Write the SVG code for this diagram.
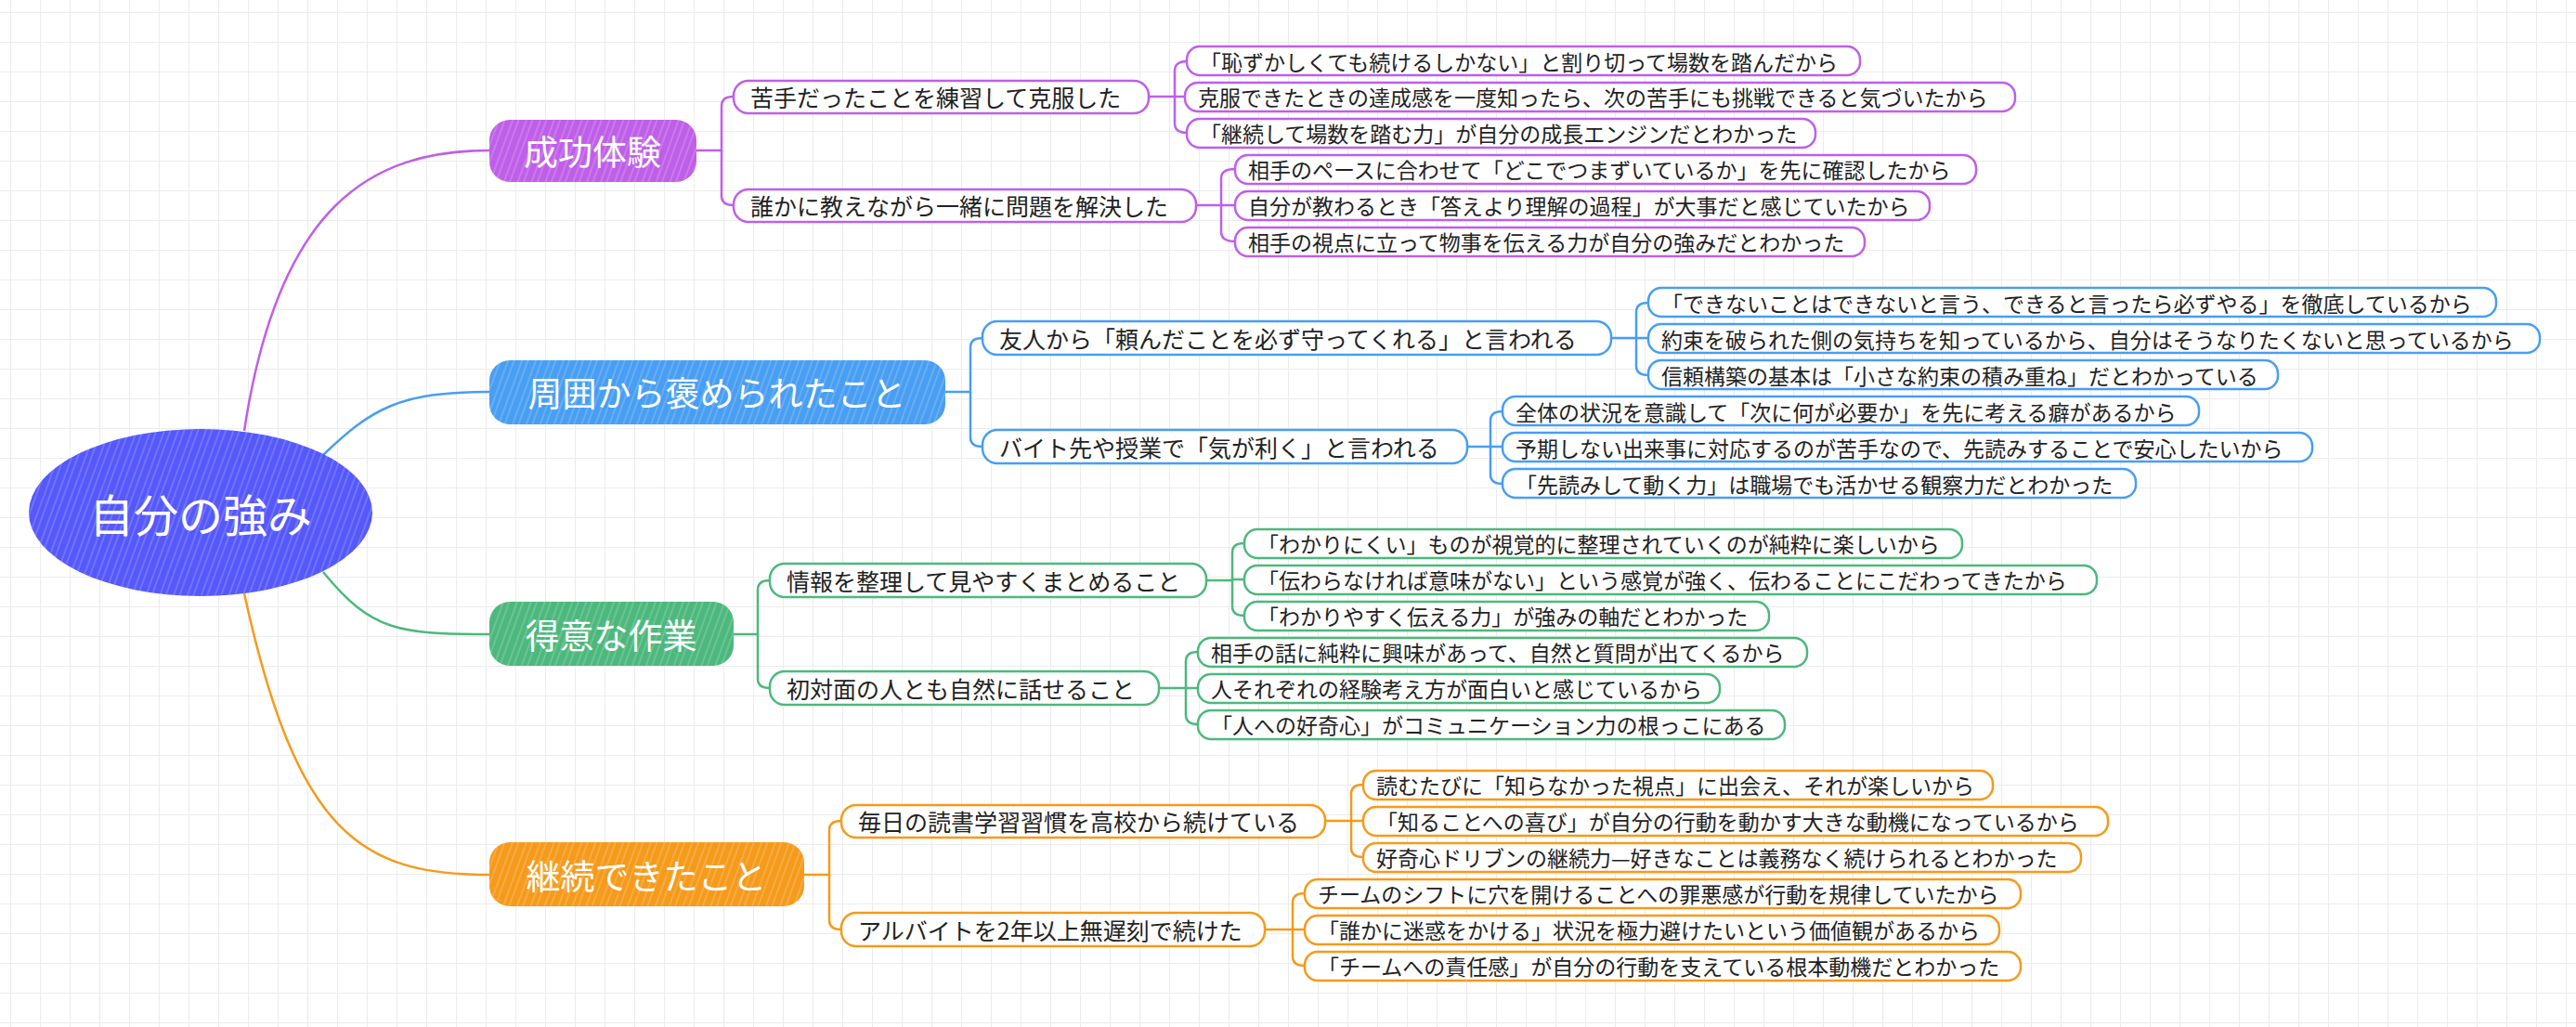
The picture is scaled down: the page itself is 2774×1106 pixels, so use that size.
<svg xmlns="http://www.w3.org/2000/svg" width="2774" height="1106" viewBox="0 0 2774 1106">
<style>
text{font-family:"Noto Sans CJK JP","Noto Sans",sans-serif;dominant-baseline:central}
.lf text{font-size:23px;fill:#222}
.l2 text{font-size:25px;fill:#222}
.mn text{font-size:37px;fill:#fff}
.box{fill:#fff;stroke-width:2.5}
.P{stroke:#BF5FE8}.B{stroke:#489EF2}.G{stroke:#4DB87D}.O{stroke:#F59A1B}
#conn path{fill:none;stroke-width:2.5}
</style>
<defs>
<pattern id="grid" width="32" height="32" patternUnits="userSpaceOnUse" x="12" y="14"><path d="M32 0V32M0 32H32" fill="none" stroke="#ececec" stroke-width="2"/></pattern>
<pattern id="hatch" width="14" height="14" patternUnits="userSpaceOnUse" patternTransform="rotate(20)"><path d="M3 0V14M9 0V14" stroke="#fff" stroke-opacity="0.22" stroke-width="1.5"/></pattern>
</defs>
<rect width="2774" height="1106" fill="#fff"/>
<rect width="2774" height="1106" fill="url(#grid)"/>
<g id="conn">
<path d="M263 464C300 220 400 162 527 162" stroke="#BF5FE8" stroke-width="4"/>
<path d="M348 490C400 440 430 422 527 422" stroke="#489EF2" stroke-width="5"/>
<path d="M348 616C400 680 430 683 527 683" stroke="#4DB87D" stroke-width="5"/>
<path d="M263 639C320 900 390 942 527 942" stroke="#F59A1B" stroke-width="4"/>
<g stroke="#BF5FE8">
<path d="M750 162H777V114Q777 104 790 104"/><path d="M777 162V211Q777 221 790 221"/>
<path d="M1237 104H1265V76Q1265 66 1278 66"/><path d="M1265 104H1278"/><path d="M1265 104V133Q1265 143 1278 143"/>
<path d="M1288 221H1315V192Q1315 182 1330 182"/><path d="M1315 221H1330"/><path d="M1315 221V250Q1315 260 1330 260"/>
</g>
<g stroke="#489EF2">
<path d="M1018 422H1045V374Q1045 364 1058 364"/><path d="M1045 422V471Q1045 481 1058 481"/>
<path d="M1735 364H1762V336Q1762 326 1775 326"/><path d="M1762 364H1775"/><path d="M1762 364V394Q1762 404 1775 404"/>
<path d="M1580 481H1605V453Q1605 443 1618 443"/><path d="M1605 481H1618"/><path d="M1605 481V511Q1605 521 1618 521"/>
</g>
<g stroke="#4DB87D">
<path d="M790 683H816V635Q816 625 829 625"/><path d="M816 683V731Q816 741 829 741"/>
<path d="M1299 625H1327V595Q1327 585 1340 585"/><path d="M1327 624H1340"/><path d="M1327 624V653Q1327 663 1340 663"/>
<path d="M1248 741H1277V712Q1277 702 1290 702"/><path d="M1277 741H1290"/><path d="M1277 741V770Q1277 780 1290 780"/>
</g>
<g stroke="#F59A1B">
<path d="M866 942H893V894Q893 884 906 884"/><path d="M893 942V991Q893 1001 906 1001"/>
<path d="M1427 884H1455V855Q1455 845 1468 845"/><path d="M1455 884H1468"/><path d="M1455 884V913Q1455 923 1468 923"/>
<path d="M1362 1001H1392V972Q1392 962 1405 962"/><path d="M1392 1001H1405"/><path d="M1392 1001V1030Q1392 1040 1405 1040"/>
</g>
</g>
<g id="root"><ellipse cx="216" cy="552" rx="185" ry="90" fill="#5558FB"/><ellipse cx="216" cy="552" rx="185" ry="90" fill="url(#hatch)"/><text x="216" y="552" text-anchor="middle" font-size="48" fill="#fff">自分の強み</text></g>
<g class="mn">
<g id="m1"><rect x="527" y="129" width="223" height="67" rx="22" fill="#BF5FE8"/><rect x="527" y="129" width="223" height="67" rx="22" fill="url(#hatch)"/><text x="638" y="162" text-anchor="middle">成功体験</text></g>
<g id="m2"><rect x="527" y="388" width="491" height="69" rx="22" fill="#489EF2"/><rect x="527" y="388" width="491" height="69" rx="22" fill="url(#hatch)"/><text x="772" y="422" text-anchor="middle">周囲から褒められたこと</text></g>
<g id="m3"><rect x="527" y="648" width="263" height="69" rx="22" fill="#4DB87D"/><rect x="527" y="648" width="263" height="69" rx="22" fill="url(#hatch)"/><text x="658" y="683" text-anchor="middle">得意な作業</text></g>
<g id="m4"><rect x="527" y="907" width="339" height="69" rx="22" fill="#F59A1B"/><rect x="527" y="907" width="339" height="69" rx="22" fill="url(#hatch)"/><text x="696" y="942" text-anchor="middle">継続できたこと</text></g>
</g>
<g class="l2">
<g id="p1"><rect class="box P" x="790" y="87" width="447" height="35" rx="16"/><text x="808" y="104">苦手だったことを練習して克服した</text></g>
<g id="p2"><rect class="box P" x="790" y="204" width="498" height="35" rx="16"/><text x="808" y="221">誰かに教えながら一緒に問題を解決した</text></g>
<g id="b1"><rect class="box B" x="1058" y="346" width="677" height="36" rx="16"/><text x="1076" y="364">友人から「頼んだことを必ず守ってくれる」と言われる</text></g>
<g id="b2"><rect class="box B" x="1058" y="463" width="522" height="36" rx="16"/><text x="1076" y="481">バイト先や授業で「気が利く」と言われる</text></g>
<g id="g1"><rect class="box G" x="829" y="607" width="470" height="36" rx="16"/><text x="847" y="625">情報を整理して見やすくまとめること</text></g>
<g id="g2"><rect class="box G" x="829" y="723" width="419" height="36" rx="16"/><text x="847" y="741">初対面の人とも自然に話せること</text></g>
<g id="o1"><rect class="box O" x="906" y="867" width="521" height="35" rx="16"/><text x="924" y="884">毎日の読書学習習慣を高校から続けている</text></g>
<g id="o2"><rect class="box O" x="906" y="983" width="456" height="36" rx="16"/><text x="924" y="1001">アルバイトを2年以上無遅刻で続けた</text></g>
</g>
<g class="lf">
<g id="p1a"><rect class="box P" x="1278" y="50" width="725" height="31" rx="14"/><text x="1292" y="66">「恥ずかしくても続けるしかない」と割り切って場数を踏んだから</text></g>
<g id="p1b"><rect class="box P" x="1276" y="89" width="894" height="31" rx="14"/><text x="1290" y="104">克服できたときの達成感を一度知ったら、次の苦手にも挑戦できると気づいたから</text></g>
<g id="p1c"><rect class="box P" x="1278" y="128" width="677" height="31" rx="14"/><text x="1292" y="143">「継続して場数を踏む力」が自分の成長エンジンだとわかった</text></g>
<g id="p2a"><rect class="box P" x="1330" y="167" width="798" height="31" rx="14"/><text x="1344" y="182">相手のペースに合わせて「どこでつまずいているか」を先に確認したから</text></g>
<g id="p2b"><rect class="box P" x="1330" y="206" width="748" height="31" rx="14"/><text x="1344" y="221">自分が教わるとき「答えより理解の過程」が大事だと感じていたから</text></g>
<g id="p2c"><rect class="box P" x="1330" y="245" width="678" height="31" rx="14"/><text x="1344" y="260">相手の視点に立って物事を伝える力が自分の強みだとわかった</text></g>
<g id="b1a"><rect class="box B" x="1775" y="310" width="913" height="31" rx="14"/><text x="1789" y="326">「できないことはできないと言う、できると言ったら必ずやる」を徹底しているから</text></g>
<g id="b1b"><rect class="box B" x="1775" y="349" width="960" height="31" rx="14"/><text x="1789" y="365">約束を破られた側の気持ちを知っているから、自分はそうなりたくないと思っているから</text></g>
<g id="b1c"><rect class="box B" x="1775" y="388" width="678" height="31" rx="14"/><text x="1789" y="404">信頼構築の基本は「小さな約束の積み重ね」だとわかっている</text></g>
<g id="b2a"><rect class="box B" x="1618" y="427" width="750" height="31" rx="14"/><text x="1632" y="443">全体の状況を意識して「次に何が必要か」を先に考える癖があるから</text></g>
<g id="b2b"><rect class="box B" x="1618" y="466" width="872" height="31" rx="14"/><text x="1632" y="482">予期しない出来事に対応するのが苦手なので、先読みすることで安心したいから</text></g>
<g id="b2c"><rect class="box B" x="1618" y="505" width="682" height="31" rx="14"/><text x="1632" y="521">「先読みして動く力」は職場でも活かせる観察力だとわかった</text></g>
<g id="g1a"><rect class="box G" x="1340" y="570" width="773" height="31" rx="14"/><text x="1354" y="585">「わかりにくい」ものが視覚的に整理されていくのが純粋に楽しいから</text></g>
<g id="g1b"><rect class="box G" x="1340" y="609" width="918" height="31" rx="14"/><text x="1354" y="624">「伝わらなければ意味がない」という感覚が強く、伝わることにこだわってきたから</text></g>
<g id="g1c"><rect class="box G" x="1340" y="648" width="565" height="31" rx="14"/><text x="1354" y="663">「わかりやすく伝える力」が強みの軸だとわかった</text></g>
<g id="g2a"><rect class="box G" x="1290" y="687" width="656" height="31" rx="14"/><text x="1304" y="702">相手の話に純粋に興味があって、自然と質問が出てくるから</text></g>
<g id="g2b"><rect class="box G" x="1290" y="726" width="562" height="31" rx="14"/><text x="1304" y="741">人それぞれの経験考え方が面白いと感じているから</text></g>
<g id="g2c"><rect class="box G" x="1290" y="765" width="632" height="31" rx="14"/><text x="1304" y="780">「人への好奇心」がコミュニケーション力の根っこにある</text></g>
<g id="o1a"><rect class="box O" x="1468" y="830" width="678" height="31" rx="14"/><text x="1482" y="845">読むたびに「知らなかった視点」に出会え、それが楽しいから</text></g>
<g id="o1b"><rect class="box O" x="1468" y="869" width="802" height="31" rx="14"/><text x="1482" y="884">「知ることへの喜び」が自分の行動を動かす大きな動機になっているから</text></g>
<g id="o1c"><rect class="box O" x="1468" y="908" width="773" height="31" rx="14"/><text x="1482" y="923">好奇心ドリブンの継続力—好きなことは義務なく続けられるとわかった</text></g>
<g id="o2a"><rect class="box O" x="1405" y="947" width="771" height="31" rx="14"/><text x="1419" y="962">チームのシフトに穴を開けることへの罪悪感が行動を規律していたから</text></g>
<g id="o2b"><rect class="box O" x="1405" y="986" width="748" height="31" rx="14"/><text x="1419" y="1001">「誰かに迷惑をかける」状況を極力避けたいという価値観があるから</text></g>
<g id="o2c"><rect class="box O" x="1405" y="1025" width="771" height="31" rx="14"/><text x="1419" y="1040">「チームへの責任感」が自分の行動を支えている根本動機だとわかった</text></g>
</g>
</svg>
